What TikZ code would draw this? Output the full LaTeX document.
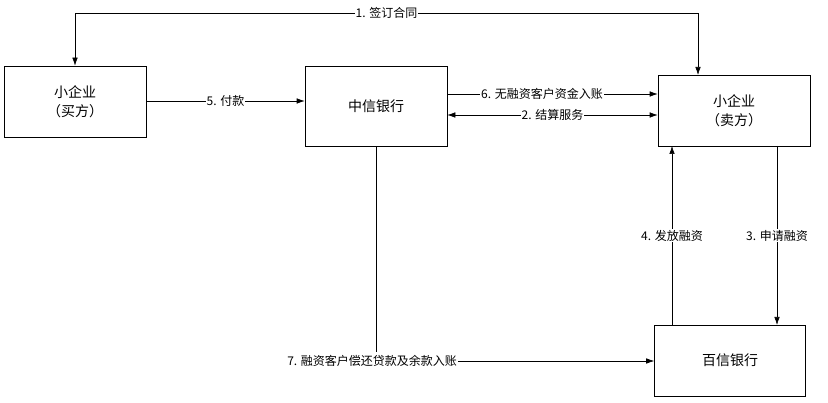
\documentclass[tikz,border=0pt]{standalone}
\usepackage{fontspec}
\setmainfont{Noto Sans CJK SC}
\usetikzlibrary{arrows.meta,positioning}

\begin{document}
\begin{tikzpicture}[x=1pt,y=-1pt,>={Latex[length=8pt,width=5.5pt]},semithick,
  main node/.style={draw,semithick,fill=white,minimum width=142pt,align=center,font=\fontsize{14}{19}\selectfont},
  edge label/.style={fill=white,inner sep=1pt,font=\fontsize{12}{14}\selectfont}]
  \useasboundingbox (0,0) rectangle (828,403);
  \node[main node,minimum height=71pt] (buyer) at (75,101.5) {小企业\\（买方）};
  \node[main node,minimum height=80pt] (citic) at (376,106) {中信银行};
  \node[main node,minimum height=71pt,minimum width=152pt] (seller) at (734,110.5) {小企业\\（卖方）};
  \node[main node,minimum height=71pt,minimum width=151pt] (baixin) at (730,360.5) {百信银行};

  % contract
  \draw[<->] (698,75) -- (698,13) -- node[edge label] {1. 签订合同} (75,13) -- (buyer.north -| 75,0);
  % payment
  \draw[->] (buyer.east |- 0,101) -- node[edge label] {5. 付款} (citic.west |- 0,101);
  \draw[->] (citic.east |- 0,94) -- node[edge label,pos=0.45] {6. 无融资客户资金入账} (seller.west |- 0,94);
  \draw[<->] (citic.east |- 0,115) -- node[edge label,pos=0.5] {2. 结算服务} (seller.west |- 0,115);
  % financing
  \draw[->] (777,146) -- node[edge label] {3. 申请融资} (777,325);
  \draw[->] (672,325) -- node[edge label] {4. 发放融资} (672,146);
  % repayment
  \node[edge label,anchor=west] (repay) at (286,361) {7. 融资客户偿还贷款及余款入账};
  \draw (citic.south) -- (376,352);
  \draw[->] (repay.east) -- (baixin.west |- repay.east);
\end{tikzpicture}
\end{document}
